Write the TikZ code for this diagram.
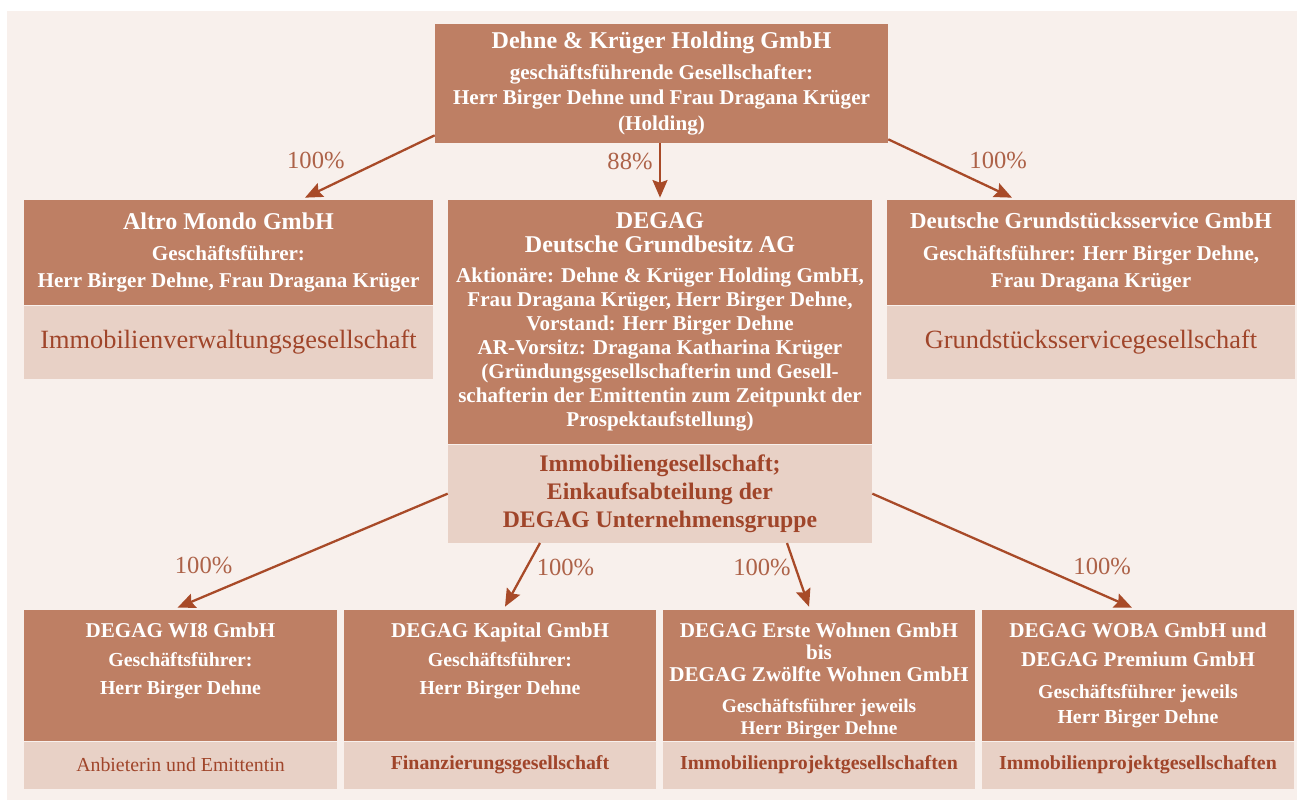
\documentclass[tikz,border=0pt]{standalone}
\usepackage{fontspec}
\setmainfont{Liberation Serif}
\usetikzlibrary{arrows.meta, calc, positioning}
\definecolor{firmbrown}{HTML}{BE7F64}
\definecolor{taskrose}{HTML}{E8D1C6}
\definecolor{paperrose}{HTML}{F8F0EC}
\definecolor{linkred}{HTML}{A84A28}
\definecolor{taskred}{HTML}{A0452A}
\definecolor{pctbrown}{HTML}{AD6248}
\newcommand{\firmtitle}[1]{{\fontsize{13.7}{16}\selectfont #1}}
\newcommand{\subtitle}[1]{{\fontsize{12}{14}\selectfont #1}}

\begin{document}
\begin{tikzpicture}[x=0.02cm, y=-0.02cm,
	firm/.style={fill=firmbrown, text=white, align=center, inner sep=0pt, font=\bfseries\fontsize{12}{14}\selectfont},
	firmtext/.style={text=white, align=center, inner sep=0pt, font=\bfseries\fontsize{11.3}{14}\selectfont},
	task/.style={fill=taskrose, text=taskred, align=center, inner sep=0pt},
	share/.style={->, >={Stealth[length=10pt,width=8.5pt,inset=1.5pt]}, draw=linkred, line width=1.3pt},
	pct/.style={text=pctbrown, inner sep=0pt, font=\fontsize{14}{16}\selectfont}]
		\useasboundingbox (0,0) rectangle (1297,800);
		\fill[paperrose] (7,11) rectangle (1297,800);
		
		\node(hold)  [firm, minimum width=9.06cm, minimum height=2.38cm, font=\bfseries\fontsize{12}{14.5}\selectfont] at (661.5,83.5)  {\firmtitle{Dehne \& Krüger Holding GmbH}\\[3pt]geschäftsführende Gesellschafter:\\Herr Birger Dehne und Frau Dragana Krüger\\(Holding)};
		
		\node(altro)  [firm, minimum width=8.18cm, minimum height=2.1cm] at (228.5,252.5)  {\firmtitle{Altro Mondo GmbH}\\[4pt]Geschäftsführer:\\[1.4pt]Herr Birger Dehne, Frau Dragana Krüger};
		\node(altrotask)  [task, minimum width=8.18cm, minimum height=1.46cm, below=0pt of altro]  {\fontsize{15}{18}\selectfont Immobilienverwaltungsgesellschaft};
		
		\node(degag)  [firm, minimum width=8.48cm, minimum height=4.88cm, font=\bfseries\fontsize{12}{13.7}\selectfont] at (660,322)  {\firmtitle{DEGAG}\\\firmtitle{Deutsche Grundbesitz AG}\\[3pt]Aktionäre: Dehne \& Krüger Holding GmbH,\\Frau Dragana Krüger, Herr Birger Dehne,\\Vorstand: Herr Birger Dehne\\AR-Vorsitz: Dragana Katharina Krüger\\(Gründungsgesellschafterin und Gesell-\\schafterin der Emittentin zum Zeitpunkt der\\Prospektaufstellung)};
		\node(degagtask)  [task, minimum width=8.48cm, minimum height=1.96cm, below=0pt of degag, font=\bfseries\fontsize{13.5}{16}\selectfont]  {Immobiliengesellschaft;\\Einkaufsabteilung der\\DEGAG Unternehmensgruppe};
		
		\node(gss)  [firm, minimum width=8.16cm, minimum height=2.1cm] at (1091,252.5)  {{\fontsize{13}{16}\selectfont Deutsche Grundstücksservice GmbH}\\[4pt]Geschäftsführer: Herr Birger Dehne,\\[1.4pt]Frau Dragana Krüger};
		\node(gsstask)  [task, minimum width=8.16cm, minimum height=1.46cm, below=0pt of gss]  {\fontsize{15}{18}\selectfont Grundstücksservicegesellschaft};
		
		% Tochtergesellschaften der DEGAG
		\node(wi8)  [firm, minimum width=6.26cm, minimum height=2.62cm] at (180.5,675.5)  {};
		\node(wi8txt)  [firmtext, below=0.26cm of wi8.north]  {\subtitle{DEGAG WI8 GmbH}\\[2.5pt]Geschäftsführer:\\[2pt]Herr Birger Dehne};
		\node(wi8task)  [task, minimum width=6.26cm, minimum height=0.94cm, below=0pt of wi8, font=\fontsize{11.3}{13}\selectfont]  {Anbieterin und Emittentin};
		
		\node(kap)  [firm, minimum width=6.26cm, minimum height=2.62cm] at (500,675.5)  {};
		\node(kaptxt)  [firmtext, below=0.26cm of kap.north]  {\subtitle{DEGAG Kapital GmbH}\\[2.5pt]Geschäftsführer:\\[2pt]Herr Birger Dehne};
		\node(kaptask)  [task, minimum width=6.26cm, minimum height=0.94cm, below=0pt of kap, font=\bfseries\fontsize{11.3}{13}\selectfont]  {Finanzierungsgesellschaft};
		
		\node(erste)  [firm, minimum width=6.26cm, minimum height=2.62cm] at (819,675.5)  {};
		\node(erstetxt)  [firmtext, below=0.26cm of erste.north, font=\bfseries\fontsize{11}{12.5}\selectfont]  {\subtitle{DEGAG Erste Wohnen GmbH}\\\subtitle{bis}\\\subtitle{DEGAG Zwölfte Wohnen GmbH}\\[5pt]Geschäftsführer jeweils\\Herr Birger Dehne};
		\node(erstetask)  [task, minimum width=6.26cm, minimum height=0.94cm, below=0pt of erste, font=\bfseries\fontsize{11.3}{13}\selectfont]  {Immobilienprojektgesellschaften};
		
		\node(woba)  [firm, minimum width=6.26cm, minimum height=2.62cm] at (1138,675.5)  {};
		\node(wobatxt)  [firmtext, below=0.26cm of woba.north]  {\subtitle{DEGAG WOBA GmbH und}\\[2.5pt]\subtitle{DEGAG Premium GmbH}\\[4.2pt]Geschäftsführer jeweils\\Herr Birger Dehne};
		\node(wobatask)  [task, minimum width=6.26cm, minimum height=0.94cm, below=0pt of woba, font=\bfseries\fontsize{11.3}{13}\selectfont]  {Immobilienprojektgesellschaften};
		
		\draw[share] ($(hold.south west)+(0,-8)$) -- ($(altro.north)+(76.5,-2)$) node[pct, midway, xshift=-1.08cm, yshift=0.12cm] (p1) {100\%};
		\draw[share] (hold.south -| degag.north) -- ($(degag.north)+(0,-2)$) node[pct, midway, xshift=-0.6cm, yshift=0.19cm] (p2) {88\%};
		\draw[share] ($(hold.south east)+(0,-4)$) -- ($(gss.north)+(-79,-2)$) node[pct, midway, xshift=0.96cm, yshift=0.16cm] (p3) {100\%};
		\draw[share] (degagtask.west) -- ($(wi8.north)+(-3,-2)$) node[pct, midway, xshift=-2.18cm, yshift=-0.3cm] (p4) {100\%};
		\draw[share] ($(degagtask.south)+(-120,0)$) -- ($(kap.north)+(5,-3)$) node[pct, midway, xshift=0.86cm, yshift=0.14cm] (p5) {100\%};
		\draw[share] ($(degagtask.south)+(127,0)$) -- ($(erste.north)+(-10,-3)$) node[pct, midway, xshift=-0.72cm, yshift=0.14cm] (p6) {100\%};
		\draw[share] (degagtask.east) -- ($(woba.north)+(-6,-2)$) node[pct, midway, xshift=2.0cm, yshift=-0.32cm] (p7) {100\%};
		\end{tikzpicture}
\end{document}
